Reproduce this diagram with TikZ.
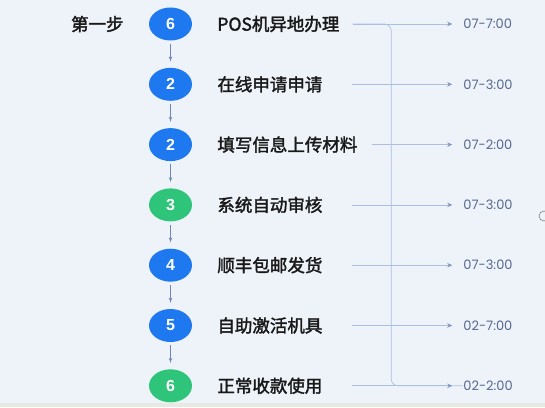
\documentclass[tikz,border=0pt]{standalone}
\usepackage{fontspec}
\setsansfont{Liberation Sans}
\newfontfamily\cjk{Noto Sans CJK SC}[FakeBold=2]
\newfontfamily\stampfont{Poppins}
\usetikzlibrary{shapes,arrows,arrows.meta,calc,positioning}
\definecolor{stepblue}{HTML}{1E78F0}
\definecolor{stepgreen}{HTML}{2EC47A}
\definecolor{flowgray}{HTML}{6E87B3}
\definecolor{timeline}{HTML}{A9C0E2}
\definecolor{timetip}{HTML}{7F96C0}
\definecolor{timetext}{HTML}{56688F}
\definecolor{bgpale}{HTML}{EEF3F9}
\definecolor{bgband}{HTML}{E7E9E3}
\tikzstyle{num} = [ellipse, minimum width=43pt, minimum height=33pt, inner sep=0pt, text=white, font=\sffamily\bfseries\fontsize{16}{16}\selectfont]
\tikzstyle{bluestep} = [num, fill=stepblue]
\tikzstyle{greenstep} = [num, fill=stepgreen]
\tikzstyle{task} = [inner sep=0pt, text=black!90, font=\cjk\fontsize{17.5}{17.5}\selectfont]
\tikzstyle{stamp} = [inner sep=0pt, text=timetext, font=\stampfont\fontsize{13}{13}\selectfont]
\tikzstyle{flow} = [draw=flowgray, line width=0.7pt, -latex', shorten <=3pt, shorten >=6pt]
\tikzstyle{line} = [draw=timeline, line width=0.7pt, -{Stealth[length=5pt, width=4.5pt, color=timetip]}, shorten >=11pt]

\begin{document}
\begin{tikzpicture}[node distance = 60.3pt, auto]
        \fill[bgpale] (0,0) rectangle (545pt,407pt);
        \fill[bgband] (0,0) rectangle (545pt,4pt);
        \useasboundingbox (0,0) rectangle (545pt,407pt);
        \node[bluestep] (s1) at (170.5pt,383pt) {6};
        \node[bluestep, below of=s1] (s2) {2};
        \node[bluestep, below of=s2] (s3) {2};
        \node[greenstep, below of=s3] (s4) {3};
        \node[bluestep, below of=s4] (s5) {4};
        \node[bluestep, below of=s5] (s6) {5};
        \node[greenstep, below of=s6] (s7) {6};
        \node[task, left=25pt of s1] (head) {第一步};
        \node[task, right=25pt of s1] (l1) {POS机异地办理};
        \node[task, right=25pt of s2] (l2) {在线申请申请};
        \node[task, right=25pt of s3] (l3) {填写信息上传材料};
        \node[task, right=25pt of s4] (l4) {系统自动审核};
        \node[task, right=25pt of s5] (l5) {顺丰包邮发货};
        \node[task, right=25pt of s6] (l6) {自助激活机具};
        \node[task, right=25pt of s7] (l7) {正常收款使用};
        \node[stamp, right=271pt of s1] (t1) {07-7:00};
        \node[stamp, right=271pt of s2] (t2) {07-3:00};
        \node[stamp, right=271pt of s3] (t3) {07-2:00};
        \node[stamp, right=271pt of s4] (t4) {07-3:00};
        \node[stamp, right=271pt of s5] (t5) {07-3:00};
        \node[stamp, right=271pt of s6] (t6) {02-7:00};
        \node[stamp, right=271pt of s7] (t7) {02-2:00};
        % where the time lines start
        \coordinate[right=13pt of l1] (a1);
        \coordinate[right=160pt of s2] (a2);
        \coordinate[right=14pt of l3] (a3);
        \coordinate[right=160pt of s4] (a4);
        \coordinate[right=160pt of s5] (a5);
        \coordinate[right=160pt of s6] (a6);
        \coordinate[right=160pt of s7] (a7);
        \coordinate[right=199pt of s7] (b7);
        \path[flow] (s1) -- (s2);
        \path[flow] (s2) -- (s3);
        \path[flow] (s3) -- (s4);
        \path[flow] (s4) -- (s5);
        \path[flow] (s5) -- (s6);
        \path[flow] (s6) -- (s7);
        \draw[timeline, line width=0.7pt, rounded corners=7pt] (a1) -| (b7) -- (a7 -| t7.west);
        \path[line] (a1) -- (t1);
        \path[line] (a2) -- (t2);
        \path[line] (a3) -- (t3);
        \path[line] (a4) -- (t4);
        \path[line] (a5) -- (t5);
        \path[line] (a6) -- (t6);
        \path[line] (a7) -- (t7);
        \draw[gray, line width=0.6pt] (544pt,191pt) circle (5pt);
    \end{tikzpicture}
\end{document}
